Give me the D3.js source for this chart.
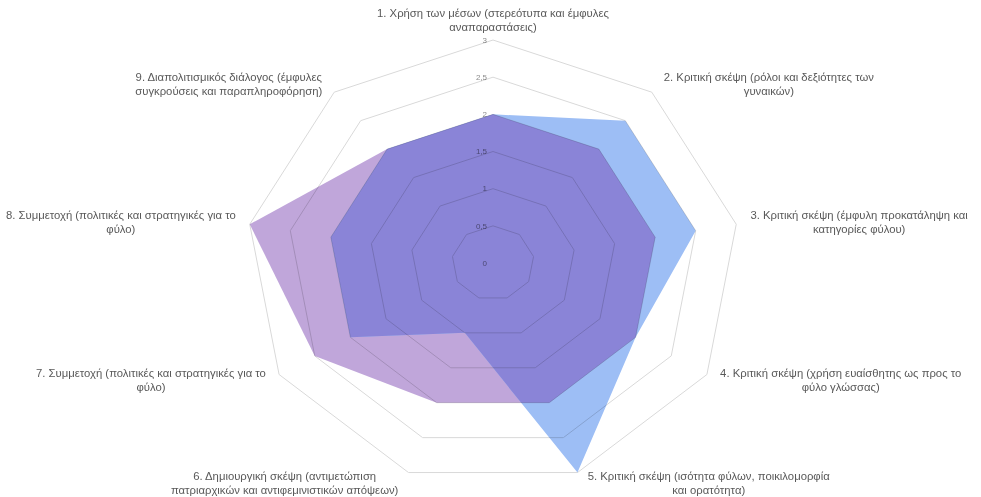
<!DOCTYPE html>
<html>
<head>
<meta charset="utf-8">
<script src="https://cdn.jsdelivr.net/npm/d3@7"></script>
<style>
  html, body { margin: 0; padding: 0; background: #ffffff; }
  svg { display: block; }
  text { font-family: "Liberation Sans", Arial, sans-serif; }
</style>
</head>
<body>
<svg id="chart" width="981" height="497"></svg>
<script>
// ---- data ----
const categories = [
  ["1. Χρήση των μέσων (στερεότυπα και έμφυλες", "αναπαραστάσεις)"],
  ["2. Κριτική σκέψη (ρόλοι και δεξιότητες των", "γυναικών)"],
  ["3. Κριτική σκέψη (έμφυλη προκατάληψη και", "κατηγορίες φύλου)"],
  ["4. Κριτική σκέψη (χρήση ευαίσθητης ως προς το", "φύλο γλώσσας)"],
  ["5. Κριτική σκέψη (ισότητα φύλων,  ποικιλομορφία", "και ορατότητα)"],
  ["6. Δημιουργική σκέψη (αντιμετώπιση", "πατριαρχικών και αντιφεμινιστικών απόψεων)"],
  ["7. Συμμετοχή (πολιτικές και στρατηγικές για το", "φύλο)"],
  ["8. Συμμετοχή (πολιτικές και στρατηγικές για το", "φύλο)"],
  ["9. Διαπολιτισμικός διάλογος (έμφυλες", "συγκρούσεις και παραπληροφόρηση)"]
];
const seriesBlue   = [2, 2.5, 2.5, 2, 3, 1, 2, 2, 2];
const seriesPurple = [2, 2, 2, 2, 2, 2, 2.5, 3, 2];
const tickValues = [0, 0.5, 1, 1.5, 2, 2.5, 3];
const tickLabels = ["0", "0,5", "1", "1,5", "2", "2,5", "3"];

// ---- layout ----
const cx = 493, cy = 263;
const svg = d3.select("#chart");
const n = categories.length;
const angle = d3.scaleLinear().domain([0, n]).range([0, 2 * Math.PI]);
const rx = d3.scaleLinear().domain([0, 3]).range([0, 247]);
const ry = d3.scaleLinear().domain([0, 3]).range([0, 223]);

const px = (i, v) => cx + rx(v) * Math.sin(angle(i));
const py = (i, v) => cy - ry(v) * Math.cos(angle(i));

const radarLine = d3.line()
  .x(d => px(d.i, d.v))
  .y(d => py(d.i, d.v))
  .curve(d3.curveLinearClosed);

const toPts = arr => arr.map((v, i) => ({ i, v }));

const defs = svg.append("defs");
defs.append("clipPath").attr("id", "purpleClip")
  .append("path").attr("d", radarLine(toPts(seriesPurple)));

const g = svg.append("g");

// purple series
g.append("path")
  .attr("d", radarLine(toPts(seriesPurple)))
  .attr("fill", "#c0a6da");
// blue series
g.append("path")
  .attr("d", radarLine(toPts(seriesBlue)))
  .attr("fill", "#9dbef5");
// overlap
g.append("path")
  .attr("d", radarLine(toPts(seriesBlue)))
  .attr("clip-path", "url(#purpleClip)")
  .attr("fill", "#8a84d7");

// grid rings (drawn over the fills, multiply so they darken the fill)
const gridG = svg.append("g").style("mix-blend-mode", "multiply");
tickValues.filter(t => t > 0).forEach(t => {
  gridG.append("path")
    .attr("d", radarLine(d3.range(n).map(i => ({ i, v: t }))))
    .attr("fill", "none")
    .attr("stroke", "#d9d9d9")
    .attr("stroke-width", 1);
});

// tick labels
const tickG = svg.append("g").style("mix-blend-mode", "multiply");
tickValues.forEach((t, k) => {
  tickG.append("text")
    .attr("x", cx - 6)
    .attr("y", py(0, t))
    .attr("dy", "0.35em")
    .attr("text-anchor", "end")
    .attr("font-size", 8)
    .attr("fill", "#8c8c8c")
    .text(tickLabels[k]);
});

// category labels
const labG = svg.append("g");
categories.forEach((lines, i) => {
  const a = angle(i);
  const s = Math.sin(a), c = Math.cos(a);
  const vx = px(i, 3), vy = py(i, 3);
  const t = labG.append("text")
    .attr("font-size", 11.3)
    .attr("fill", "#595959")
    .attr("text-anchor", "middle");
  lines.forEach((ln, j) => {
    t.append("tspan").attr("x", 0).attr("y", j * 14).text(ln);
  });
  const bb = t.node().getBBox();
  const w = bb.width;
  let lx, ly;
  if (Math.abs(s) < 0.1) {
    lx = vx;
    ly = vy - 20;
  } else {
    const gap = 8 + 6 * Math.abs(s);
    lx = vx + Math.sign(s) * (gap + w / 2);
    ly = vy - c * 11;
  }
  t.attr("transform", `translate(${lx},${ly - 3})`);
});
</script>
</body>
</html>
